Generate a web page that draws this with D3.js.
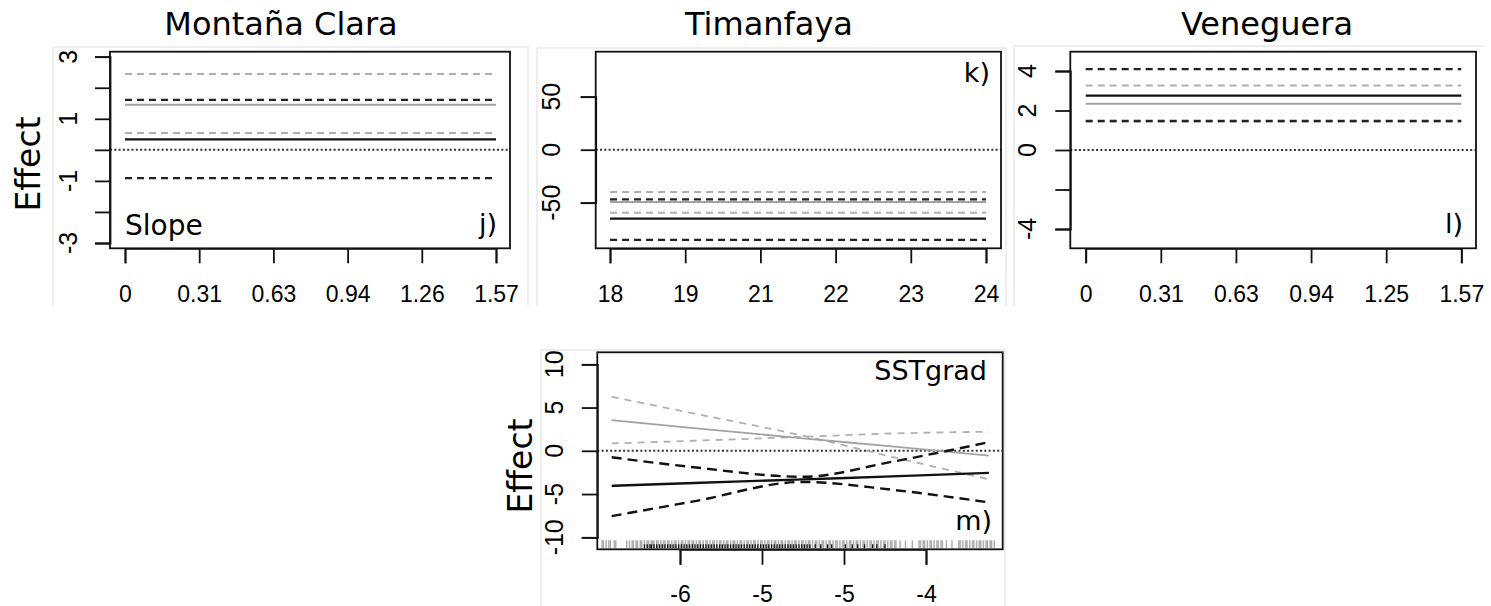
<!DOCTYPE html>
<html><head><meta charset="utf-8">
<script src="https://cdn.jsdelivr.net/npm/d3@7"></script>
<style>body{margin:0;background:#fff}svg{display:block}</style>
</head><body>
<script>
// ---------- DATA ----------
// Panel j) Montaña Clara (Slope)
const mcX = [0, 1.57];
const mcBlackFit = [0.34, 0.34];
const mcBlackUp = [1.61, 1.61];
const mcBlackLo = [-0.91, -0.91];
const mcGreyFit = [1.45, 1.45];
const mcGreyUp = [2.44, 2.44];
const mcGreyLo = [0.54, 0.54];
const mcXTicks = [0, 0.314, 0.628, 0.942, 1.256, 1.57];
const mcXLabels = ["0", "0.31", "0.63", "0.94", "1.26", "1.57"];
const mcYTicks = [-3, -2, -1, 0, 1, 2, 3];
const mcYLabels = ["-3", "", "-1", "", "1", "", "3"];

// Panel k) Timanfaya
const tfX = [18.3, 24.05];
const tfBlackFit = [-65, -65];
const tfBlackUp = [-46.9, -46.9];
const tfBlackLo = [-85.1, -85.1];
const tfGreyFit = [-49.4, -49.4];
const tfGreyUp = [-40, -40];
const tfGreyLo = [-59.4, -59.4];
const tfXTicks = [18.3, 19.45, 20.6, 21.75, 22.9, 24.05];
const tfXLabels = ["18", "19", "21", "22", "23", "24"];
const tfYTicks = [-50, 0, 50];
const tfYLabels = ["-50", "0", "50"];

// Panel l) Veneguera
const vgX = [0, 1.566];
const vgBlackFit = [2.75, 2.75];
const vgBlackUp = [4.1, 4.1];
const vgBlackLo = [1.47, 1.47];
const vgGreyFit = [2.34, 2.34];
const vgGreyUp = [3.27, 3.27];
const vgGreyLo = [1.42, 1.42];
const vgXTicks = [0, 0.3132, 0.6264, 0.9396, 1.2528, 1.566];
const vgXLabels = ["0", "0.31", "0.63", "0.94", "1.25", "1.57"];
const vgYTicks = [-4, -2, 0, 2, 4];
const vgYLabels = ["-4", "", "0", "2", "4"];

// Panel m) SSTgrad
const sgX = [-6.4, -5.8, -5.0, -4.35, -3.64];
const sgGreyUp = [6.24, 4.32, 1.75, -0.69, -3.29];
const sgGreyFit = [3.55, 2.63, 1.44, 0.5, -0.55];
const sgGreyLo = [0.85, 1.16, 1.62, 2.0, 2.2];
const sgBlackUp = [-0.75, -1.9, -3.0, -1.27, 1.0];
const sgBlackFit = [-4.05, -3.73, -3.3, -2.96, -2.55];
const sgBlackLo = [-7.55, -5.85, -3.6, -4.5, -5.97];
const sgXTicks = [-5.9, -5.3, -4.7, -4.1];
const sgXLabels = ["-6", "-5", "-5", "-4"];
const sgYTicks = [-10, -5, 0, 5, 10];
const sgYLabels = ["-10", "-5", "0", "5", "10"];
const sgRugGrey = [-6.47,-6.46,-6.44,-6.42,-6.41,-6.38,-6.37,
  -6.29,-6.27,-6.25,-6.24,-6.22,-6.21,-6.19,-6.18,-6.16,-6.14,-6.13,-6.11,
  -6.10,-6.09,-6.07,-6.06,-6.04,-6.02,-6.01,-5.99,-5.98,-5.96,-5.94,-5.93,-5.91,-5.89,-5.88,-5.86,-5.84,-5.83,-5.81,-5.80,
  -5.78,-5.76,-5.75,-5.73,-5.71,-5.70,-5.68,-5.66,-5.65,-5.63,-5.61,-5.60,-5.58,-5.56,-5.55,-5.53,-5.51,-5.50,-5.48,-5.46,
  -5.45,-5.43,-5.41,-5.40,-5.38,-5.36,-5.35,-5.33,-5.31,-5.30,-5.28,-5.26,-5.25,-5.23,-5.21,-5.20,-5.18,-5.16,-5.15,-5.13,
  -5.11,-5.10,-5.08,-5.06,-5.05,-5.03,-5.01,-5.00,-4.98,-4.96,-4.95,-4.93,-4.91,-4.90,-4.88,-4.86,-4.85,-4.83,-4.81,-4.80,
  -4.78,-4.76,-4.75,-4.73,-4.71,-4.70,-4.68,-4.66,-4.65,-4.63,-4.61,-4.60,-4.58,-4.56,-4.55,-4.53,-4.51,-4.50,-4.48,-4.46,
  -4.45,-4.43,-4.41,-4.40,-4.38,-4.36,-4.35,-4.33,-4.32,
  -4.29,-4.25,-4.20,
  -4.15,-4.14,-4.12,-4.11,-4.09,-4.07,-4.06,-4.04,-4.02,-4.01,-3.99,-3.98,
  -3.95,-3.91,
  -3.86,-3.85,-3.83,-3.81,-3.80,-3.78,-3.76,-3.75,-3.73,-3.71,-3.70,-3.68,-3.66,-3.65,-3.63,-3.62,-3.60];
const sgRugBlack = [-6.16,-6.14,-6.12,-6.11,-6.09,-6.07,-6.05,-6.03,-6.01,-5.99,-5.97,-5.95,-5.93,-5.91,-5.89,-5.87,
  -5.85,-5.83,-5.81,-5.79,-5.77,-5.75,-5.73,-5.71,-5.69,-5.67,-5.65,-5.63,-5.61,-5.59,-5.57,-5.55,-5.53,-5.51,-5.49,
  -5.47,-5.45,-5.43,-5.41,-5.39,-5.37,-5.35,-5.33,-5.31,-5.29,-5.27,-5.25,-5.23,-5.21,-5.19,-5.17,-5.15,-5.13,-5.11,
  -5.09,-5.07,-5.05,-5.03,-5.01,-4.99,-4.97,
  -4.95,-4.91,-4.87,-4.82,-4.79,-4.69,-4.64,-4.60,-4.55,-4.49,-4.46,-4.40];

// ---------- DRAWING ----------
const W = 1491, H = 606;
const svg = d3.select("body").append("svg").attr("width", W).attr("height", H);
const TF = "Liberation Sans, Arial, sans-serif";
const LF = "DejaVu Sans, Verdana, sans-serif";
const GREY_DASH = "#b0b0b0", GREY_SOLID = "#a2a2a2", BLK = "#111";

// light subfigure frames
const frameLines = [
  [53,47,53,306],[53,47,528,47],[528,47,528,306],
  [537,48,537,306],[537,48,1006,48],[1006,48,1006,306],
  [1014,46,1014,306],[1014,46,1485,46],
  [541,350,541,606],[541,350,1005,350],[1005,350,1005,606]
];
svg.append("g").selectAll("line").data(frameLines).join("line")
  .attr("x1", d => d[0]).attr("y1", d => d[1]).attr("x2", d => d[2]).attr("y2", d => d[3])
  .attr("stroke", "#dedede").attr("stroke-width", 1);

function panel(cfg) {
  const g = svg.append("g");
  const x = d3.scaleLinear().domain(cfg.xDom).range(cfg.xRange);
  const y = d3.scaleLinear().domain(cfg.yDom).range(cfg.yRange);
  const b = cfg.box;
  // zero line
  g.append("line").attr("x1", b[0]).attr("x2", b[1]).attr("y1", y(0)).attr("y2", y(0))
    .attr("stroke", "#333").attr("stroke-width", 2).attr("stroke-dasharray", "2,2.3");
  const line = d3.line().x(d => x(d[0])).y(d => y(d[1])).curve(d3.curveMonotoneX);
  cfg.series.forEach(s => {
    g.append("path").datum(cfg.xs.map((v, i) => [v, s.v[i]]))
      .attr("d", line).attr("fill", "none")
      .attr("stroke", s.c).attr("stroke-width", s.w)
      .attr("stroke-dasharray", s.dash || null);
  });
  // rug
  if (cfg.rugs) {
    cfg.rugs.forEach(r => {
      g.append("g").selectAll("line").data(r.v).join("line")
        .attr("x1", d => x(d)).attr("x2", d => x(d))
        .attr("y1", b[3] - 1).attr("y2", b[3] - 1 - r.h)
        .attr("stroke", r.c).attr("stroke-width", r.w);
    });
  }
  // box
  g.append("rect").attr("x", b[0]).attr("y", b[2]).attr("width", b[1] - b[0]).attr("height", b[3] - b[2])
    .attr("fill", "none").attr("stroke", "#111").attr("stroke-width", 1.8);
  // x axis
  const xa = g.append("g").attr("transform", `translate(0,${b[3]})`)
    .call(d3.axisBottom(x).tickValues(cfg.xTicks).tickFormat((d, i) => cfg.xLabels[i])
      .tickSizeOuter(0).tickSize(cfg.tick).tickPadding(cfg.xPad));
  xa.selectAll("path,line").attr("stroke", "#111").attr("stroke-width", 1.8);
  xa.selectAll("text").attr("font-family", TF).attr("font-size", 23).attr("fill", "#000");
  // y axis
  const ya = g.append("g").attr("transform", `translate(${b[0]},0)`)
    .call(d3.axisLeft(y).tickValues(cfg.yTicks).tickFormat("").tickSizeOuter(0).tickSize(cfg.tick));
  ya.selectAll("path,line").attr("stroke", "#111").attr("stroke-width", 1.8);
  g.append("g").selectAll("text").data(cfg.yTicks).join("text")
    .attr("transform", d => `translate(${cfg.yLabX},${y(d)}) rotate(-90)`)
    .attr("text-anchor", "middle").attr("dy", "0.36em")
    .attr("font-family", TF).attr("font-size", 25).attr("fill", "#000")
    .text((d, i) => cfg.yLabels[i]);
  (cfg.texts || []).forEach(t => {
    g.append("text").attr("x", t.x).attr("y", t.y).attr("text-anchor", t.a)
      .attr("font-family", LF).attr("font-size", t.s).attr("fill", "#000").text(t.t);
  });
  return g;
}

function constSeries(bf, bu, bl, gf, gu, gl) {
  return [
    {v: gu, c: GREY_DASH, w: 2, dash: "7,5"},
    {v: gl, c: GREY_DASH, w: 2, dash: "7,5"},
    {v: gf, c: GREY_SOLID, w: 2},
    {v: bu, c: "#222", w: 2.2, dash: "7,5"},
    {v: bl, c: "#222", w: 2.2, dash: "7,5"},
    {v: bf, c: BLK, w: 2.2}
  ];
}

panel({
  xDom: [0, 1.57], xRange: [125, 496], yDom: [-3, 3], yRange: [243, 56.7],
  box: [110, 510, 51.7, 248.3], tick: 15, xPad: 22, yLabX: 68,
  xs: mcX, series: constSeries(mcBlackFit, mcBlackUp, mcBlackLo, mcGreyFit, mcGreyUp, mcGreyLo),
  xTicks: mcXTicks, xLabels: mcXLabels, yTicks: mcYTicks, yLabels: mcYLabels,
  texts: [{t: "Slope", x: 125, y: 235, a: "start", s: 28}, {t: "j)", x: 497, y: 233, a: "end", s: 27}]
});
panel({
  xDom: [18.3, 24.05], xRange: [610, 986], yDom: [-50, 50], yRange: [202.7, 96.7],
  box: [595.7, 1001, 51.7, 248.3], tick: 15, xPad: 22, yLabX: 551,
  xs: tfX, series: constSeries(tfBlackFit, tfBlackUp, tfBlackLo, tfGreyFit, tfGreyUp, tfGreyLo),
  xTicks: tfXTicks, xLabels: tfXLabels, yTicks: tfYTicks, yLabels: tfYLabels,
  texts: [{t: "k)", x: 990, y: 82, a: "end", s: 27}]
});
panel({
  xDom: [0, 1.566], xRange: [1085.7, 1461.3], yDom: [-4, 4], yRange: [229, 71],
  box: [1070.3, 1476, 51.7, 248.3], tick: 15, xPad: 22, yLabX: 1026.5,
  xs: vgX, series: constSeries(vgBlackFit, vgBlackUp, vgBlackLo, vgGreyFit, vgGreyUp, vgGreyLo),
  xTicks: vgXTicks, xLabels: vgXLabels, yTicks: vgYTicks, yLabels: vgYLabels,
  texts: [{t: "l)", x: 1463, y: 233, a: "end", s: 27}]
});
panel({
  xDom: [-5.9, -4.1], xRange: [680, 926], yDom: [-10, 10], yRange: [537.3, 364.3],
  box: [597.3, 1002.7, 352.3, 549.3], tick: 15.5, xPad: 21, yLabX: 554,
  xs: sgX,
  series: [
    {v: sgGreyUp, c: GREY_DASH, w: 1.8, dash: "7,6"},
    {v: sgGreyLo, c: GREY_DASH, w: 1.8, dash: "7,6"},
    {v: sgGreyFit, c: GREY_SOLID, w: 1.8},
    {v: sgBlackUp, c: "#111", w: 2.4, dash: "10,6"},
    {v: sgBlackLo, c: "#111", w: 2.4, dash: "10,6"},
    {v: sgBlackFit, c: BLK, w: 2.4}
  ],
  rugs: [{v: sgRugGrey, c: "#acacac", h: 8, w: 1.5}, {v: sgRugBlack, c: "#111", h: 4, w: 1.3}],
  xTicks: sgXTicks, xLabels: sgXLabels, yTicks: sgYTicks, yLabels: sgYLabels,
  texts: [{t: "SSTgrad", x: 987, y: 380, a: "end", s: 27}, {t: "m)", x: 992, y: 530, a: "end", s: 27}]
});

// titles and y-axis titles
const titles = [["Montaña Clara", 281], ["Timanfaya", 769], ["Veneguera", 1267]];
svg.append("g").selectAll("text").data(titles).join("text")
  .attr("x", d => d[1]).attr("y", 35).attr("text-anchor", "middle")
  .attr("font-family", LF).attr("font-size", 32).attr("fill", "#000").text(d => d[0]);
const effects = [[28, 164], [520, 466]];
svg.append("g").selectAll("text").data(effects).join("text")
  .attr("transform", d => `translate(${d[0]},${d[1]}) rotate(-90)`)
  .attr("text-anchor", "middle").attr("dy", "0.36em")
  .attr("font-family", LF).attr("font-size", 33).attr("fill", "#000").text("Effect");
</script>
</body></html>
